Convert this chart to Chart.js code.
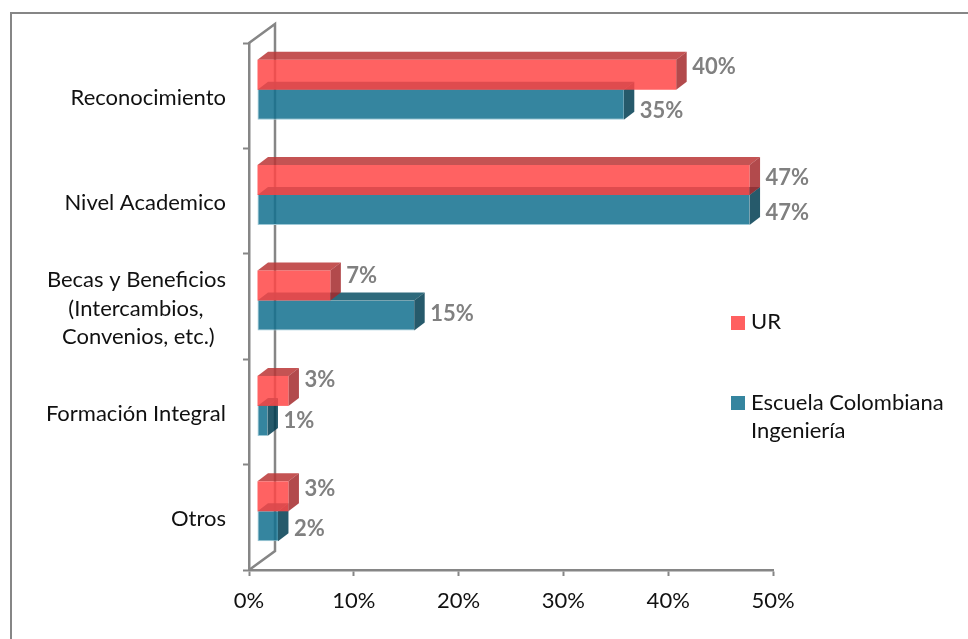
<!DOCTYPE html>
<html>
<head>
<meta charset="utf-8">
<style>
  html, body { margin: 0; padding: 0; background: #fff; }
  #wrap { width: 968px; height: 639px; }
</style>
<script src="https://cdn.jsdelivr.net/npm/chart.js@4/dist/chart.umd.min.js"></script>
</head>
<body>
<div id="wrap"><canvas id="chart" width="968" height="639"></canvas></div>
<script>
const categories = [
  "Reconocimiento",
  "Nivel Academico",
  ["Becas y Beneficios", "(Intercambios,    ", "Convenios, etc.)  "],
  "Formación Integral",
  "Otros"
];
const urValues = [40, 47, 7, 3, 3];
const escuelaValues = [35, 47, 15, 1, 2];
const xTicks = [0, 10, 20, 30, 40, 50];

const FONT = "Lato, Carlito, Calibri, sans-serif";
const AXIS = "#868686";

// vertical nudge of each value label, the original placed them by hand
const urLabelDy = [-8, -2, -10, -11, -7];
const escuelaLabelDy = [6, 3, -2, 0, 3];

// bars sit part way into the 3d box
const BAR_SHIFT = { x: 8, y: -6 };
const BAR_DEPTH = { x: 10.5, y: -8 };
const WALL = { x: 26, y: -19 };

const faces = [
  { top: "rgba(186,53,53,.85)", side: "rgba(165,42,45,.85)" },
  { top: "rgba(9,80,101,.85)", side: "rgba(0,61,81,.85)" }
];

function poly(ctx, pts, fill) {
  ctx.fillStyle = fill;
  ctx.beginPath();
  pts.forEach((p, i) => (i ? ctx.lineTo(p[0], p[1]) : ctx.moveTo(p[0], p[1])));
  ctx.closePath();
  ctx.fill();
}

const box3d = {
  id: "box3d",
  beforeDraw(chart) {
    // only the top and left of the frame are in the picture
    const ctx = chart.ctx;
    ctx.save();
    ctx.strokeStyle = AXIS;
    ctx.lineWidth = 2;
    ctx.beginPath();
    ctx.moveTo(11, 639);
    ctx.lineTo(11, 13);
    ctx.lineTo(968, 13);
    ctx.stroke();
    ctx.restore();
  },
  beforeDatasetsDraw(chart) {
    const { ctx, chartArea: a } = chart;
    ctx.save();
    ctx.strokeStyle = AXIS;
    ctx.lineWidth = 2.5;
    ctx.beginPath();
    ctx.moveTo(a.left, a.top);
    ctx.lineTo(a.left + WALL.x, a.top + WALL.y);
    ctx.lineTo(a.left + WALL.x, a.bottom + WALL.y);
    ctx.lineTo(a.left, a.bottom);
    ctx.stroke();
    ctx.restore();
  },
  beforeDatasetDraw(chart, args) {
    const ctx = chart.ctx;
    const f = faces[args.index];
    ctx.save();
    ctx.translate(BAR_SHIFT.x, BAR_SHIFT.y);
    args.meta.data.forEach((bar) => {
      const { x, y, base, height } = bar.getProps(["x", "y", "base", "height"], true);
      const t = y - height / 2, b = y + height / 2;
      const dx = BAR_DEPTH.x, dy = BAR_DEPTH.y;
      poly(ctx, [[base, t], [base + dx, t + dy], [x + dx, t + dy], [x, t]], f.top);
      poly(ctx, [[x, t], [x + dx, t + dy], [x + dx, b + dy], [x, b]], f.side);
    });
  },
  afterDatasetDraw(chart) {
    chart.ctx.restore();
  },
  afterDatasetsDraw(chart) {
    const ctx = chart.ctx;
    ctx.save();
    // value labels
    ctx.font = "bold 22px " + FONT;
    ctx.fillStyle = "#808080";
    ctx.textBaseline = "middle";
    ctx.textAlign = "left";
    [urLabelDy, escuelaLabelDy].forEach((nudge, d) => {
      chart.getDatasetMeta(d).data.forEach((bar, i) => {
        const v = chart.data.datasets[d].data[i];
        ctx.fillText(v + "%", bar.x + BAR_SHIFT.x + 16, bar.y + BAR_SHIFT.y + nudge[i]);
      });
    });
    // legend
    ctx.font = "22px " + FONT;
    ctx.fillStyle = "#ff6060";
    ctx.fillRect(731, 316, 14, 14);
    ctx.fillStyle = "#35859f";
    ctx.fillRect(731, 396, 14, 14);
    ctx.fillStyle = "#111";
    ctx.fillText(chart.data.datasets[0].label, 751, 322);
    const second = chart.data.datasets[1].label;
    ctx.fillText(second[0], 751, 403);
    ctx.fillText(second[1], 751, 431);
    ctx.restore();
  }
};

new Chart(document.getElementById("chart"), {
  type: "bar",
  plugins: [box3d],
  data: {
    labels: categories,
    datasets: [
      { label: "UR", data: urValues, backgroundColor: "rgba(255,70,70,.85)", clip: false },
      {
        label: ["Escuela Colombiana", "Ingeniería"],
        data: escuelaValues,
        backgroundColor: "rgba(18,112,142,.85)",
        borderColor: "#9cc8d6",
        borderWidth: { bottom: 1, left: 1 },
        borderSkipped: false,
        clip: false
      }
    ]
  },
  options: {
    indexAxis: "y",
    responsive: false,
    animation: false,
    layout: { padding: { top: 43, right: 195, left: 0, bottom: 0 } },
    categoryPercentage: 0.569,
    barPercentage: 1,
    plugins: { legend: { display: false }, tooltip: { enabled: false } },
    scales: {
      x: {
        min: 0,
        max: 50,
        afterFit: (s) => { s.height = 69; },
        afterBuildTicks: (s) => { s.ticks = xTicks.map((v) => ({ value: v })); },
        border: { color: AXIS, width: 2.5 },
        grid: { drawOnChartArea: false, tickLength: 6, tickColor: AXIS, tickWidth: 2 },
        ticks: {
          font: { family: FONT, size: 22 },
          color: "#111",
          padding: 12,
          maxRotation: 0,
          callback: (v) => v + "%"
        }
      },
      y: {
        afterFit: (s) => { s.width = 249; },
        border: { color: AXIS, width: 2.5 },
        grid: { drawOnChartArea: false, tickLength: 6, tickColor: AXIS, tickWidth: 2 },
        ticks: {
          font: { family: FONT, size: 22, lineHeight: 1.3 },
          color: "#111",
          padding: 17,
          labelOffset: 2
        }
      }
    }
  }
});
</script>
</body>
</html>
